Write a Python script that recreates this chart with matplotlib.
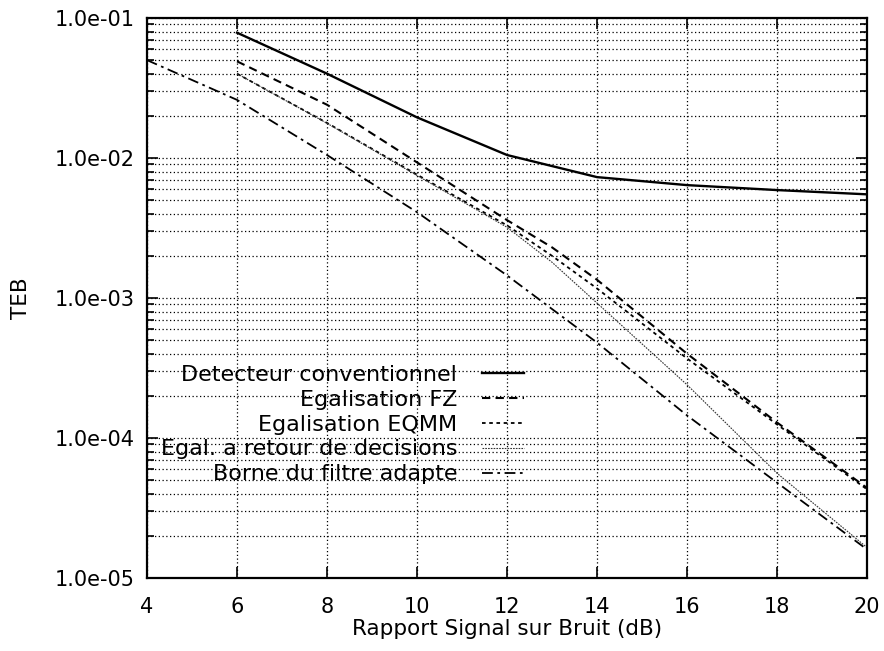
import numpy as np
import matplotlib
matplotlib.use("Agg")
import matplotlib.pyplot as plt
from matplotlib.ticker import LogLocator, FuncFormatter, NullFormatter

# values (TEB vs SNR in dB)
snr_conv = [6, 8, 10, 12, 14, 16, 18, 20]
teb_conv = [0.0785, 0.040, 0.0195, 0.0105, 0.0073, 0.0064, 0.0059, 0.0055]

snr_eq = [6, 8, 10, 12, 13, 14, 16, 18, 20]
teb_fz = [0.049, 0.024, 0.0093, 0.0036, 0.0023, 0.00135, 0.00040, 0.000129, 4.4e-5]
teb_eqmm = [0.040, 0.0178, 0.0076, 0.0033, 0.0020, 0.00117, 0.00037, 0.000125, 4.3e-5]
teb_dfe = [0.040, 0.0177, 0.0075, 0.0032, 0.0018, 0.00092, 0.00024, 5.6e-5, 1.65e-5]

snr_borne = [4, 6, 8, 10, 12, 14, 16, 18, 20]
teb_borne = [0.050, 0.026, 0.0105, 0.0041, 0.00145, 0.00048, 0.000145, 4.8e-5, 1.6e-5]

labels = ["Detecteur conventionnel", "Egalisation FZ", "Egalisation EQMM",
          "Egal. a retour de decisions", "Borne du filtre adapte"]
x_ticks = [4, 6, 8, 10, 12, 14, 16, 18, 20]

plt.rcParams['font.family'] = ['DejaVu Sans']

fig = plt.figure(figsize=(8.84, 6.51), dpi=100)
ax = fig.add_axes([0.1663, 0.1121, 0.8145, 0.8603])

ax.plot(snr_conv, teb_conv, color='black', lw=1.7, ls='-', label=labels[0])
ax.plot(snr_eq, teb_fz, color='black', lw=1.5, ls=(0, (4, 2.5)), label=labels[1])
ax.plot(snr_eq, teb_eqmm, color='black', lw=1.3, ls=(0, (2, 2)), label=labels[2])
ax.plot(snr_eq, teb_dfe, color='#333333', lw=0.8, ls=(0, (1.5, 1)), label=labels[3])
ax.plot(snr_borne, teb_borne, color='black', lw=1.3, ls=(0, (6, 2.5, 1.5, 2.5)), label=labels[4])

ax.set_yscale('log')
ax.set_xlim(4, 20)
ax.set_ylim(1e-5, 1e-1)
ax.set_xticks(x_ticks)
ax.yaxis.set_major_locator(LogLocator(base=10, numticks=10))
ax.yaxis.set_minor_locator(LogLocator(base=10, subs=np.arange(2, 10), numticks=20))
ax.yaxis.set_major_formatter(FuncFormatter(lambda v, p: f"{v:.1e}"))
ax.yaxis.set_minor_formatter(NullFormatter())

ax.grid(True, which='major', axis='x', color='black', lw=0.9, ls=(0, (1, 2)))
ax.grid(True, which='both', axis='y', color='black', lw=0.9, ls=(0, (1, 2)))

ax.tick_params(which='both', direction='in', top=True, right=True, labelsize=15, width=1.2)
ax.tick_params(axis='y', which='major', length=8, pad=9)
ax.tick_params(axis='y', which='minor', length=5)
ax.tick_params(axis='x', which='major', length=8, pad=14)
for s in ax.spines.values():
    s.set_linewidth(1.6)

ax.set_xlabel("Rapport Signal sur Bruit (dB)", fontsize=15.5, labelpad=1)
ax.set_ylabel("TEB", fontsize=15.5, labelpad=17)

leg = ax.legend(loc='center right', bbox_to_anchor=(0.539, 0.274), frameon=False,
                markerfirst=False, fontsize=16, handlelength=1.9, handletextpad=1.1,
                labelspacing=0.22, borderpad=0)
# right-align the text of each legend row
for col in leg._legend_handle_box.get_children():
    col.align = 'right'

fig.savefig("out.png", dpi=100)
